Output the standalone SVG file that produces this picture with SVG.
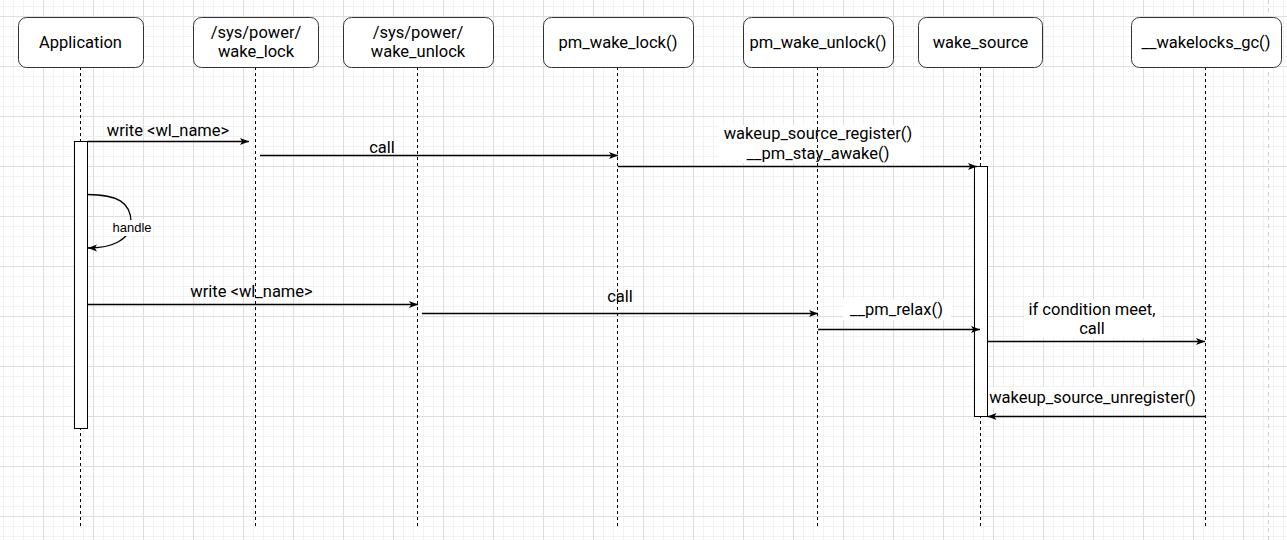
<svg xmlns="http://www.w3.org/2000/svg" width="1287" height="540" viewBox="0 0 1287 540">
<defs>
<pattern id="minor" x="3" y="6" width="10" height="10" patternUnits="userSpaceOnUse">
<path d="M0.5,0 V10 M0,0.5 H10" stroke="#f2f2f2" stroke-width="1" fill="none"/>
</pattern>
<pattern id="major" x="43" y="16" width="50" height="50" patternUnits="userSpaceOnUse">
<path d="M0.5,0 V50 M0,0.5 H50" stroke="#dedede" stroke-width="1" fill="none"/>
</pattern>
<marker id="arrow" viewBox="0 0 10 10" refX="10" refY="5" markerWidth="10" markerHeight="9" markerUnits="userSpaceOnUse" orient="auto">
<path d="M0,1 L10,5 L0,9 L2.5,5 z" fill="#000"/>
</marker>
</defs>
<style>
.box{fill:#fff;stroke:#333;stroke-width:1}
.life{stroke:#000;stroke-width:1;stroke-dasharray:3 3;fill:none}
.act{fill:#fff;stroke:#000;stroke-width:1}
.t{font-family:Roboto,"Open Sans",sans-serif;font-size:16.5px;fill:#000;text-anchor:middle}
.s{font-family:"Liberation Sans",Arial,sans-serif;font-size:13px;fill:#000;text-anchor:middle}
.msg{stroke:#000;stroke-width:1.3;fill:none;marker-end:url(#arrow)}
.bg{fill:#fff}
</style>
<rect width="1287" height="540" fill="#fff"/>
<rect width="1287" height="540" fill="url(#minor)"/>
<rect width="1287" height="540" fill="url(#major)"/>
<line x1="1268.5" y1="0" x2="1268.5" y2="540" stroke="#cfcfcf" stroke-dasharray="4 4"/>

<g id="label-backgrounds">
<rect class="bg" x="718" y="125" width="202" height="38"/>
<rect class="bg" x="843" y="299" width="108" height="21"/>
<rect class="bg" x="1024" y="299" width="137" height="39"/>
<rect class="bg" x="983" y="387" width="220" height="21"/>
</g>

<g id="node-application">
<line class="life" x1="80.5" y1="67" x2="80.5" y2="528"/>
<rect class="box" x="18.5" y="17.5" width="125" height="50" rx="8"/>
<text class="t" x="80.5" y="47.5">Application</text>
<rect class="act" x="74.5" y="141.5" width="13" height="287"/>
</g>
<g id="node-wake-lock">
<line class="life" x1="255.5" y1="67" x2="255.5" y2="528"/>
<rect class="box" x="193.5" y="17.5" width="125" height="50" rx="8"/>
<text class="t"><tspan x="256" y="37.5">/sys/power/</tspan><tspan x="256" y="57">wake_lock</tspan></text>
</g>
<g id="node-wake-unlock">
<line class="life" x1="417.5" y1="67" x2="417.5" y2="528"/>
<rect class="box" x="343.5" y="17.5" width="150" height="50" rx="8"/>
<text class="t"><tspan x="418" y="37.5">/sys/power/</tspan><tspan x="418" y="57">wake_unlock</tspan></text>
</g>
<g id="node-pm-wake-lock">
<line class="life" x1="617.5" y1="67" x2="617.5" y2="528"/>
<rect class="box" x="543.5" y="17.5" width="150" height="50" rx="8"/>
<text class="t" x="618" y="47.5">pm_wake_lock()</text>
</g>
<g id="node-pm-wake-unlock">
<line class="life" x1="817.5" y1="67" x2="817.5" y2="528"/>
<rect class="box" x="743.5" y="17.5" width="150" height="50" rx="8"/>
<text class="t" x="818" y="47.5">pm_wake_unlock()</text>
</g>
<g id="node-wake-source">
<line class="life" x1="980.5" y1="67" x2="980.5" y2="528"/>
<rect class="box" x="918.5" y="17.5" width="124" height="50" rx="8"/>
<text class="t" x="980.5" y="47.5">wake_source</text>
<rect class="act" x="974.5" y="166.5" width="13" height="250"/>
</g>
<g id="node-wakelocks-gc">
<line class="life" x1="1205.5" y1="67" x2="1205.5" y2="528"/>
<rect class="box" x="1131.5" y="17.5" width="150" height="50" rx="8"/>
<text class="t" x="1206" y="47.5">__wakelocks_gc()</text>
</g>

<g id="connectors">
<line class="msg" x1="87.5" y1="141.5" x2="249" y2="141.5"/>
<text class="t" x="168" y="136">write &lt;wl_name&gt;</text>

<line class="msg" x1="260" y1="155.5" x2="618" y2="155.5"/>
<text class="t" x="382" y="152.5">call</text>

<line class="msg" x1="618" y1="166.5" x2="977" y2="166.5"/>
<text class="t"><tspan x="818" y="139">wakeup_source_register()</tspan><tspan x="818" y="158.5">__pm_stay_awake()</tspan></text>

<path class="msg" d="M87.5,194.5 C118,194.5 131,203 131,222 C131,240 112,248 88,248"/>
<rect class="bg" x="111" y="220" width="42" height="16"/>
<text class="s" x="132" y="231.5">handle</text>

<line class="msg" x1="87.5" y1="304.5" x2="418" y2="304.5"/>
<text class="t" x="251.5" y="296.5">write &lt;wl_name&gt;</text>

<line class="msg" x1="422" y1="313.5" x2="818" y2="313.5"/>
<text class="t" x="620" y="302">call</text>

<line class="msg" x1="818" y1="329.5" x2="980" y2="329.5"/>
<text class="t" x="896.5" y="315">__pm_relax()</text>

<line class="msg" x1="987.5" y1="341.5" x2="1205" y2="341.5"/>
<text class="t"><tspan x="1092" y="314.5">if condition meet,</tspan><tspan x="1092" y="334">call</tspan></text>

<line class="msg" x1="1205.5" y1="416.5" x2="987.5" y2="416.5"/>
<text class="t" x="1092.5" y="402.5">wakeup_source_unregister()</text>
</g>
</svg>
